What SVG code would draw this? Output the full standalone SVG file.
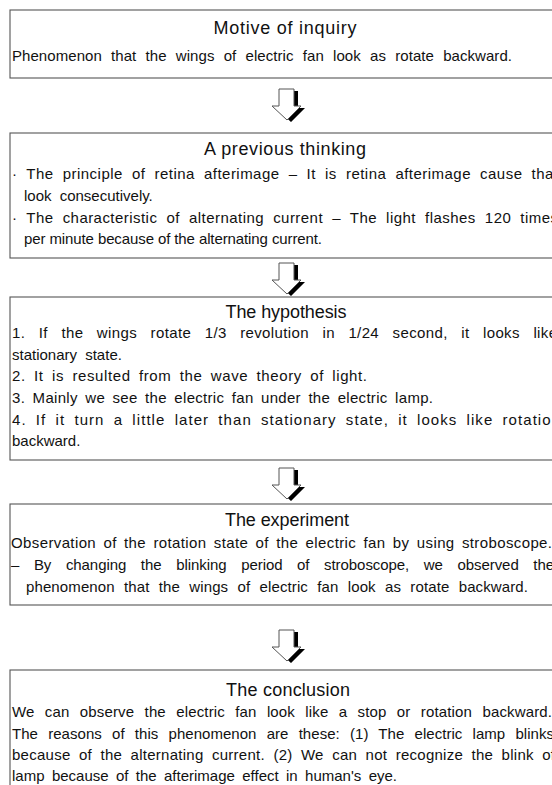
<svg xmlns="http://www.w3.org/2000/svg" width="552" height="785" viewBox="0 0 552 785">
<defs>
<style>
.box{fill:#fff;stroke:#555;stroke-width:1.1}
.t{font-family:"Liberation Sans",Arial,sans-serif;font-size:18px;fill:#111;text-anchor:middle}
.b{font-family:"Liberation Sans",Arial,sans-serif;font-size:15px;fill:#111}
</style>
<g id="arrowShape">
<polygon points="-5,2 10,2 10,19 17,19 3,33 -12,19 -5,19" fill="#000"/>
<polygon points="-9,0 6,0 6,17 13,17 -1,31 -16,17 -9,17" fill="#fff" stroke="#555" stroke-width="1"/>
</g>
</defs>
<rect width="552" height="785" fill="#fff"/>
<g id="connectors">
<use href="#arrowShape" x="288" y="89"/>
<use href="#arrowShape" x="288" y="263"/>
<use href="#arrowShape" x="288" y="468"/>
<use href="#arrowShape" x="288" y="630"/>
</g>
<g id="motive">
<rect class="box" x="10" y="10" width="570" height="68"/>
<text class="t" x="285" y="34" textLength="143" lengthAdjust="spacing">Motive of inquiry</text>
<text class="b" x="12" y="61" word-spacing="5" textLength="500" lengthAdjust="spacing">Phenomenon that the wings of electric fan look as rotate backward.</text>
</g>
<g id="previous">
<rect class="box" x="10" y="133" width="570" height="125"/>
<text class="t" x="285" y="155" textLength="162" lengthAdjust="spacing">A previous thinking</text>
<text class="b" x="12" y="179" word-spacing="4.5" textLength="546" lengthAdjust="spacing">· The principle of retina afterimage – It is retina afterimage cause that</text>
<text class="b" x="24" y="201" word-spacing="4">look consecutively.</text>
<text class="b" x="12" y="223" word-spacing="4.5" textLength="546" lengthAdjust="spacing">· The characteristic of alternating current – The light flashes 120 times</text>
<text class="b" x="24" y="244" textLength="298" lengthAdjust="spacing">per minute because of the alternating current.</text>
</g>
<g id="hypothesis">
<rect class="box" x="10" y="297" width="570" height="163"/>
<text class="t" x="286" y="318" textLength="121" lengthAdjust="spacing">The hypothesis</text>
<text class="b" x="12" y="338" word-spacing="9" textLength="545" lengthAdjust="spacing">1. If the wings rotate 1/3 revolution in 1/24 second, it looks like</text>
<text class="b" x="12" y="360" word-spacing="4">stationary state.</text>
<text class="b" x="12" y="381" word-spacing="3.6" textLength="355" lengthAdjust="spacing">2. It is resulted from the wave theory of light.</text>
<text class="b" x="12" y="403" word-spacing="3" textLength="421" lengthAdjust="spacing">3. Mainly we see the electric fan under the electric lamp.</text>
<text class="b" x="12" y="425" word-spacing="4" textLength="548" lengthAdjust="spacing">4. If it turn a little later than stationary state, it looks like rotation</text>
<text class="b" x="12" y="446">backward.</text>
</g>
<g id="experiment">
<rect class="box" x="10" y="504" width="570" height="101"/>
<text class="t" x="287" y="526" textLength="124" lengthAdjust="spacing">The experiment</text>
<text class="b" x="11" y="548" word-spacing="2.8" textLength="541" lengthAdjust="spacing">Observation of the rotation state of the electric fan by using stroboscope.</text>
<text class="b" x="11" y="570" word-spacing="10.5" textLength="543" lengthAdjust="spacing">– By changing the blinking period of stroboscope, we observed the</text>
<text class="b" x="26" y="592" word-spacing="5" textLength="502" lengthAdjust="spacing">phenomenon that the wings of electric fan look as rotate backward.</text>
</g>
<g id="conclusion">
<rect class="box" x="10" y="670" width="570" height="130"/>
<text class="t" x="288" y="696" textLength="124" lengthAdjust="spacing">The conclusion</text>
<text class="b" x="12" y="717" word-spacing="6" textLength="540" lengthAdjust="spacing">We can observe the electric fan look like a stop or rotation backward.</text>
<text class="b" x="12" y="739" word-spacing="6" textLength="542" lengthAdjust="spacing">The reasons of this phenomenon are these: (1) The electric lamp blinks</text>
<text class="b" x="12" y="760" word-spacing="4" textLength="543" lengthAdjust="spacing">because of the alternating current. (2) We can not recognize the blink of</text>
<text class="b" x="12" y="781" word-spacing="3.2" textLength="385" lengthAdjust="spacing">lamp because of the afterimage effect in human's eye.</text>
</g>
</svg>
